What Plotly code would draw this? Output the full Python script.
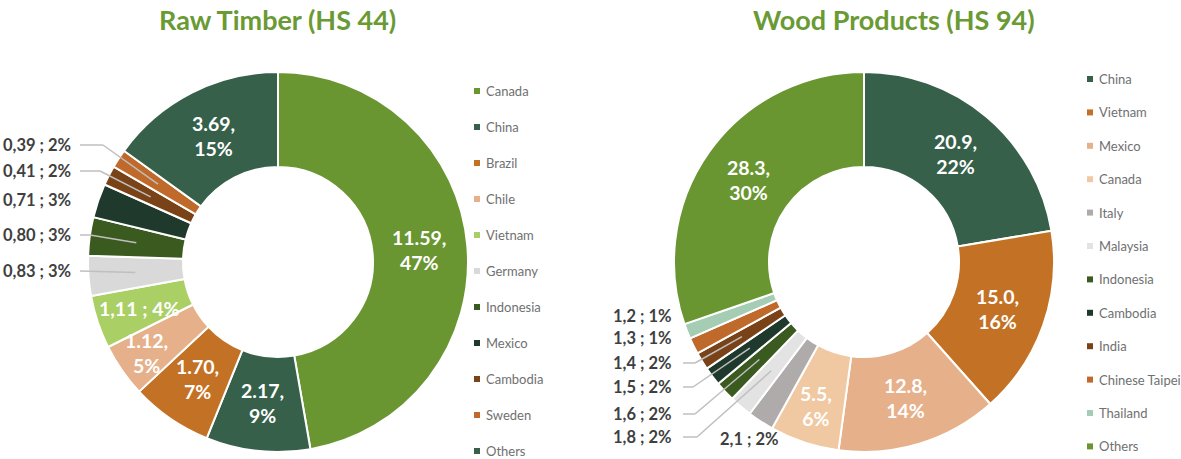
import math
import plotly.graph_objects as go

# ---------------- data ----------------
raw_labels = ["Canada", "China", "Brazil", "Chile", "Vietnam", "Germany",
              "Indonesia", "Mexico", "Cambodia", "Sweden", "Others"]
raw_values = [11.59, 2.17, 1.70, 1.12, 1.11, 0.83, 0.80, 0.71, 0.41, 0.39, 3.69]
raw_text = ["11.59,<br>47%", "2.17,<br>9%", "1.70,<br>7%", "1.12,<br>5%", "1,11 ; 4%",
            "0,83 ; 3%", "0,80 ; 3%", "0,71 ; 3%", "0,41 ; 2%", "0,39 ; 2%", "3.69,<br>15%"]

wood_labels = ["China", "Vietnam", "Mexico", "Canada", "Italy", "Malaysia",
               "Indonesia", "Cambodia", "India", "Chinese Taipei", "Thailand", "Others"]
wood_values = [20.9, 15.0, 12.8, 5.5, 2.1, 1.8, 1.6, 1.5, 1.4, 1.3, 1.2, 28.3]
wood_text = ["20.9,<br>22%", "15.0,<br>16%", "12.8,<br>14%", "5.5,<br>6%", "2,1 ; 2%",
             "1,8 ; 2%", "1,6 ; 2%", "1,5 ; 2%", "1,4 ; 2%", "1,3 ; 1%", "1,2 ; 1%",
             "28.3,<br>30%"]

# ---------------- styles ----------------
raw_colors = ["#6A9632", "#36604A", "#C37225", "#E6B08A", "#A9CF65", "#D9D9D9",
              "#3B5A1F", "#1F3A2C", "#7A4217", "#BF6A2B", "#36604A"]
wood_colors = ["#36604A", "#C37225", "#E6B08A", "#F0C8A2", "#AFABAB", "#E3E3E3",
               "#3B5A1F", "#1F3A2C", "#7A4217", "#BF6A2B", "#A5CDB4", "#6A9632"]

W, H = 1181, 459
R = 190
RAW_C = (278, 262)
WOOD_C = (864, 262)
FONT = "Lato"
GREEN_TITLE = "#6A9A34"
DARK = "#3F3F3F"
LINE = "#BFBFBF"

# label placement: ("in", radius) or ("out", y_px, elbow_x or None, has_leader) or ("free", x, y)
raw_place = [("in", 142), ("in", 142), ("in", 142), ("in", 160), ("in", 146),
             ("out", 271, None, True), ("out", 235, 90, True), ("out", 200, None, False),
             ("out", 171, 100, True), ("out", 145, 103, True), ("in", 142)]
raw_out_right, raw_line_start = 73, 80

wood_place = [("in", 142), ("in", 142), ("in", 142), ("in", 152), ("free", 749, 439),
              ("out", 437, 697, True), ("out", 414, 695, True), ("out", 387, 693, True),
              ("out", 363, 695, True), ("out", 338, None, False), ("out", 316, None, False),
              ("in", 142)]
wood_out_right, wood_line_start = 674, 683


def X(p):
    return p / W


def Y(p):
    return 1 - p / H


fig = go.Figure()
annotations = []
shapes = []


def mid_point(values, i, center, r):
    total = sum(values)
    cum = sum(values[:i]) + values[i] / 2
    th = 2 * math.pi * cum / total
    return center[0] + r * math.sin(th), center[1] - r * math.cos(th)


def add_donut(labels, values, colors, texts, place, center, out_right, line_start):
    cx, cy = center
    fig.add_trace(go.Pie(
        labels=labels, values=values, hole=0.5, sort=False, direction="clockwise",
        rotation=0, textinfo="none", hoverinfo="skip", showlegend=False,
        marker=dict(colors=colors, line=dict(color="white", width=2)),
        domain=dict(x=[X(cx - R), X(cx + R)], y=[Y(cy + R), Y(cy - R)]),
    ))
    for i, (txt, pl) in enumerate(zip(texts, place)):
        if pl[0] == "in":
            x, y = mid_point(values, i, center, pl[1])
            annotations.append(dict(
                x=X(x), y=Y(y), xref="paper", yref="paper", text=txt, showarrow=False,
                xanchor="center", yanchor="middle",
                font=dict(family=FONT, size=19.5, color="white", weight="bold")))
        elif pl[0] == "free":
            annotations.append(dict(
                x=X(pl[1]), y=Y(pl[2]), xref="paper", yref="paper", text=txt, showarrow=False,
                xanchor="center", yanchor="middle",
                font=dict(family=FONT, size=16.5, color=DARK, weight="bold")))
        else:
            ty = pl[1]
            annotations.append(dict(
                x=X(out_right), y=Y(ty), xref="paper", yref="paper", text=txt, showarrow=False,
                xanchor="right", yanchor="middle",
                font=dict(family=FONT, size=16.5, color=DARK, weight="bold")))
            if pl[3]:
                ex, ey = mid_point(values, i, center, 143)
                pts = [(line_start, ty)]
                if pl[2] is not None:
                    pts.append((pl[2], ty))
                pts.append((ex, ey))
                for (x0, y0), (x1, y1) in zip(pts[:-1], pts[1:]):
                    shapes.append(dict(type="line", xref="paper", yref="paper",
                                       x0=X(x0), y0=Y(y0), x1=X(x1), y1=Y(y1),
                                       line=dict(color=LINE, width=1.5), layer="above"))


add_donut(raw_labels, raw_values, raw_colors, raw_text, raw_place, RAW_C,
          raw_out_right, raw_line_start)
add_donut(wood_labels, wood_values, wood_colors, wood_text, wood_place, WOOD_C,
          wood_out_right, wood_line_start)


def add_legend(labels, colors, mx, tx, y0, dy):
    for i, (lab, col) in enumerate(zip(labels, colors)):
        y = y0 + dy * i
        shapes.append(dict(type="rect", xref="paper", yref="paper",
                           x0=X(mx - 3), x1=X(mx + 3), y0=Y(y + 3), y1=Y(y - 3),
                           fillcolor=col, line=dict(width=0), layer="above"))
        annotations.append(dict(
            x=X(tx), y=Y(y), xref="paper", yref="paper", text=lab, showarrow=False,
            xanchor="left", yanchor="middle",
            font=dict(family=FONT, size=13, color="#707070")))


add_legend(raw_labels, raw_colors, 477, 484, 91, 36)
add_legend(wood_labels, wood_colors, 1090, 1097, 79, 33.4)

# titles
for txt, x in [("Raw Timber (HS 44)", 277), ("Wood Products (HS 94)", 894)]:
    annotations.append(dict(
        x=X(x), y=Y(19), xref="paper", yref="paper", text=txt, showarrow=False,
        xanchor="center", yanchor="middle",
        font=dict(family=FONT, size=27, color=GREEN_TITLE, weight="bold")))

fig.update_layout(
    width=W, height=H,
    margin=dict(l=0, r=0, t=0, b=0),
    paper_bgcolor="white", plot_bgcolor="white",
    annotations=annotations, shapes=shapes,
    showlegend=False,
)

fig.write_html("out.html")
